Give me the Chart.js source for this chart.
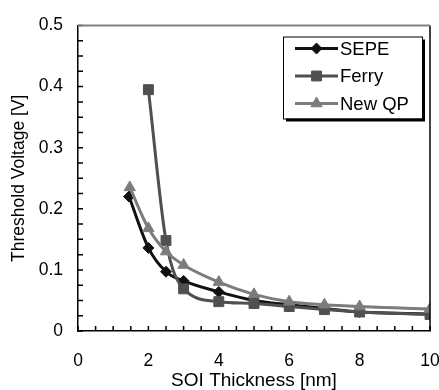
<!DOCTYPE html>
<html>
<head>
<meta charset="utf-8">
<script src="https://cdn.jsdelivr.net/npm/chart.js@4/dist/chart.umd.min.js"></script>
<style>
html,body{margin:0;padding:0;background:#fff;}
#wrap{width:439px;height:390px;}
</style>
</head>
<body>
<div id="wrap"><canvas id="c" width="439" height="390"></canvas></div>
<script>
// ---- data ----
const seriesNames = ['SEPE', 'Ferry', 'New QP'];
const sepeX = [1.45, 2, 2.5, 3, 4, 5, 6, 7, 8, 9, 10];
const sepeY = [0.220, 0.136, 0.097, 0.082, 0.064, 0.050, 0.043, 0.037, 0.031, 0.029, 0.028];
const ferryX = [2, 2.5, 3, 4, 5, 6, 7, 8, 9, 10];
const ferryY = [0.395, 0.148, 0.069, 0.048, 0.045, 0.040, 0.035, 0.031, 0.029, 0.027];
const qpX = [1.47, 2, 2.5, 3, 4, 5, 6, 7, 8, 9, 10];
const qpY = [0.235, 0.168, 0.130, 0.108, 0.080, 0.060, 0.048, 0.043, 0.040, 0.038, 0.036];
const xTickLabels = ['0', '2', '4', '6', '8', '10'];
const yTickLabels = ['0', '0.1', '0.2', '0.3', '0.4', '0.5'];

const FONT = "'Liberation Sans', Arial, sans-serif";
const toPts = (xs, ys) => xs.map((x, i) => ({x: x, y: ys[i]}));
// markers hidden at x=9 (no marker visible in reference)
const radii = (xs, r) => xs.map(x => (x === 9 ? 0 : r));

const styles = [
  {color: '#111111', point: 'rectRot', r: 5.5},
  {color: '#505050', point: 'rect', r: 7},
  {color: '#7c7c7c', point: 'triangle', r: 6.5}
];
const xsList = [sepeX, ferryX, qpX];
const ysList = [sepeY, ferryY, qpY];

const datasets = seriesNames.map((name, i) => ({
  label: name,
  data: toPts(xsList[i], ysList[i]),
  borderColor: styles[i].color,
  backgroundColor: styles[i].color,
  pointBackgroundColor: styles[i].color,
  pointBorderColor: styles[i].color,
  pointBorderWidth: 1,
  pointStyle: styles[i].point,
  pointRadius: radii(xsList[i], styles[i].r),
  borderWidth: 3,
  cubicInterpolationMode: 'monotone',
  order: 2 - i
}));

// inward tick marks + frame
const frameTicks = {
  id: 'frameTicks',
  afterDatasetsDraw(chart) {
    const ctx = chart.ctx, a = chart.chartArea;
    ctx.save();
    ctx.lineWidth = 1.5;
    ctx.strokeStyle = '#000';
    const xs = chart.scales.x, ys = chart.scales.y;
    ctx.beginPath();
    xs.ticks.forEach(t => {
      const p = xs.getPixelForValue(t.value);
      ctx.moveTo(p, a.bottom); ctx.lineTo(p, a.bottom - 5);
    });
    ys.ticks.forEach(t => {
      const p = ys.getPixelForValue(t.value);
      ctx.moveTo(a.left, p); ctx.lineTo(a.left + 5, p);
    });
    ctx.stroke();
    ctx.beginPath();
    ctx.lineWidth = 1.5;
    ctx.moveTo(a.right, a.top); ctx.lineTo(a.right, a.bottom);
    ctx.stroke();
    ctx.beginPath();
    ctx.strokeStyle = '#808080';
    ctx.lineWidth = 2;
    ctx.moveTo(a.left, a.top); ctx.lineTo(a.right, a.top);
    ctx.stroke();
    ctx.restore();
  }
};

// legend box with shadow, line+marker samples
const boxLegend = {
  id: 'boxLegend',
  afterDraw(chart) {
    const ctx = chart.ctx, a = chart.chartArea;
    const bx = a.right - 147, by = a.top + 11, bw = 139, bh = 82;
    ctx.save();
    ctx.fillStyle = '#000';
    ctx.fillRect(bx + 3, by + 3, bw, bh);
    ctx.fillStyle = '#fff';
    ctx.fillRect(bx, by, bw, bh);
    ctx.strokeStyle = '#000';
    ctx.lineWidth = 1;
    ctx.strokeRect(bx + 0.5, by + 0.5, bw, bh);
    chart.data.datasets.forEach((ds, i) => {
      const cy = by + 12 + i * 27.5;
      const x0 = bx + 12, x1 = bx + 55;
      ctx.strokeStyle = ds.borderColor;
      ctx.lineWidth = 3;
      ctx.beginPath(); ctx.moveTo(x0, cy); ctx.lineTo(x1, cy); ctx.stroke();
      ctx.fillStyle = ds.pointBackgroundColor;
      ctx.strokeStyle = ds.pointBorderColor;
      ctx.lineWidth = 1;
      Chart.helpers.drawPoint(ctx, {pointStyle: ds.pointStyle, radius: styles[i].r, rotation: 0, borderWidth: 1}, (x0 + x1) / 2, cy);
      ctx.fillStyle = '#000';
      ctx.font = '18.5px ' + FONT;
      ctx.textBaseline = 'middle';
      ctx.textAlign = 'left';
      ctx.fillText(ds.label, x1 + 2, cy + 1);
    });
    ctx.restore();
  }
};

new Chart(document.getElementById('c'), {
  type: 'line',
  data: {datasets},
  options: {
    responsive: false,
    animation: false,
    devicePixelRatio: 1,
    layout: {padding: {top: 21, right: 9, left: 0, bottom: 0}},
    plugins: {legend: {display: false}, tooltip: {enabled: false}},
    scales: {
      x: {
        type: 'linear', min: 0, max: 10,
        afterFit(s) { s.height = 59; s.paddingLeft = 0; s.paddingRight = 0; },
        ticks: {
          stepSize: 0.5, autoSkip: false, maxRotation: 0, padding: 20,
          color: '#000', font: {family: FONT, size: 17.5},
          callback: v => { const k = xTickLabels.indexOf(String(v)); return k >= 0 ? xTickLabels[k] : ''; }
        },
        grid: {drawOnChartArea: false, drawTicks: false},
        border: {color: '#000', width: 1.5},
        title: {display: true, text: 'SOI Thickness [nm]', color: '#000', font: {family: FONT, size: 19, lineHeight: 1}, padding: {top: 0, bottom: 0}}
      },
      y: {
        type: 'linear', min: 0, max: 0.5,
        afterFit(s) { s.width = 78; },
        ticks: {
          stepSize: 0.025, autoSkip: false, padding: 15,
          color: '#000', font: {family: FONT, size: 17.5},
          callback: v => { const s = String(Math.round(v * 1000) / 1000); return yTickLabels.indexOf(s) >= 0 ? s : ''; }
        },
        grid: {drawOnChartArea: false, drawTicks: false},
        border: {color: '#000', width: 1.5},
        title: {display: true, text: 'Threshold Voltage [V]', color: '#000', font: {family: FONT, size: 17.5}, padding: {top: 9, bottom: 0}}
      }
    }
  },
  plugins: [frameTicks, boxLegend]
});
</script>
</body>
</html>
